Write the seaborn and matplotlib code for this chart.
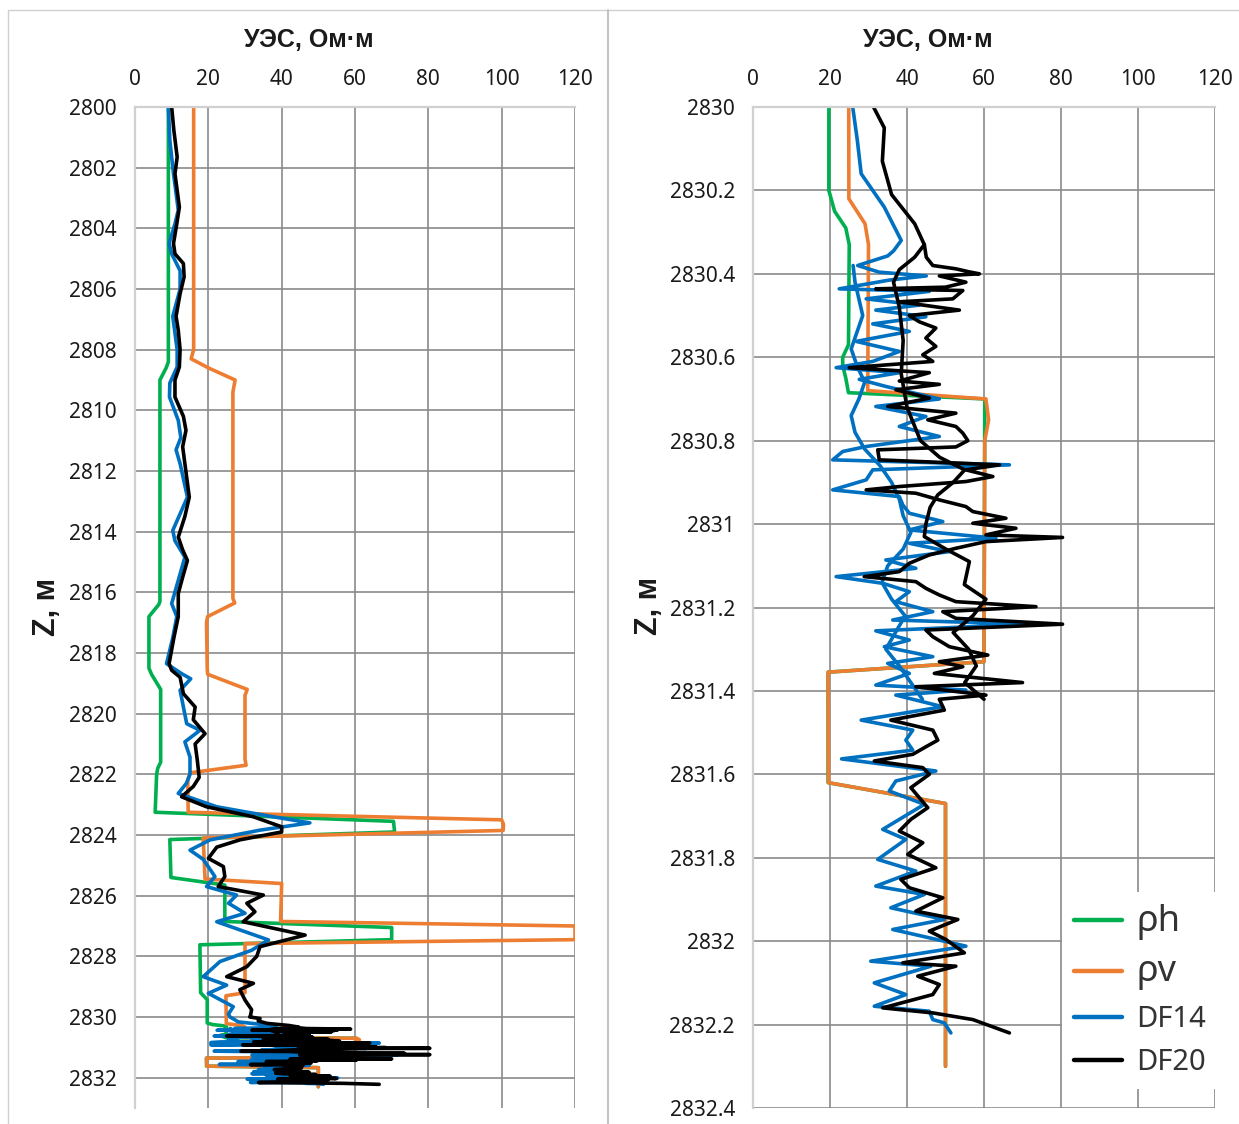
import matplotlib
matplotlib.use("Agg")
import matplotlib.pyplot as plt
from matplotlib.lines import Line2D
from matplotlib.ticker import FuncFormatter, MultipleLocator
import seaborn as sns

# ---------------- data ----------------
# horizontal resistivity (rho_h): depth, value
rho_h_depth = [2800, 2808.4, 2808.6, 2809.0, 2816.3, 2816.4, 2816.8, 2818.5, 2818.7, 2819.2,
               2821.6, 2821.8, 2822.0, 2823.25, 2823.55, 2823.9, 2824.15, 2825.4, 2825.65,
               2826.85, 2827.05, 2827.45, 2827.62, 2829.2, 2829.43, 2830.2, 2830.25, 2830.29,
               2830.33, 2830.57, 2830.6, 2830.62, 2830.65, 2830.685, 2830.7, 2831.33, 2831.355,
               2831.62, 2831.67, 2832.3]
rho_h_val = [9.1, 9.1, 8.5, 6.8, 6.8, 6.5, 3.8, 3.8, 4.5, 7.0,
             7.0, 6.2, 5.9, 5.5, 70.5, 70.8, 9.5, 9.8, 24.5,
             24.5, 70.0, 70.0, 17.7, 17.9, 19.7, 19.7, 21.2, 24.1,
             25.0, 24.8, 23.3, 23.3, 24.1, 24.8, 60.2, 60.0, 19.5,
             19.5, 50.0, 50.0]

# vertical resistivity (rho_v)
rho_v_depth = [2800, 2808.0, 2808.3, 2808.6, 2809.0, 2809.4, 2816.2, 2816.35, 2816.8, 2817.0,
               2818.5, 2818.7, 2819.2, 2819.4, 2821.5, 2821.7, 2821.95, 2822.2, 2823.25, 2823.5,
               2823.65, 2823.85, 2824.1, 2825.45, 2825.6, 2826.85, 2827.0, 2827.45, 2827.58,
               2829.2, 2829.3, 2830.22, 2830.28, 2830.33, 2830.68, 2830.7, 2830.75, 2830.8,
               2831.33, 2831.355, 2831.62, 2831.67, 2832.3]
rho_v_val = [16.0, 16.0, 15.3, 20.0, 27.3, 26.7, 26.7, 27.2, 19.8, 19.5,
             19.7, 19.8, 30.6, 30.0, 30.0, 30.3, 15.0, 14.4, 14.5, 100.0,
             100.5, 100.4, 18.6, 19.1, 40.0, 39.7, 120.0, 120.0, 30.0,
             30.0, 24.8, 24.9, 29.1, 30.0, 29.8, 60.5, 61.2, 60.2,
             60.0, 19.5, 19.6, 50.0, 50.0]

# DF14 log
df14_depth = [2800, 2801.1, 2802.2, 2803.4, 2803.85, 2804.5, 2804.84, 2805.4, 2806.0, 2806.9,
              2808.0, 2808.57, 2809.1, 2809.56, 2810.33, 2810.9, 2811.3, 2811.76, 2812.86, 2813.96,
              2814.3, 2814.84, 2815.6, 2816.37, 2816.8, 2817.5, 2818.35, 2818.68, 2818.85, 2819.23,
              2819.78, 2820.33, 2820.55, 2820.93, 2821.43, 2822.0, 2822.3, 2822.63, 2823.07, 2823.4,
              2823.6, 2823.84, 2824.16, 2824.5, 2824.8, 2825.37, 2825.7, 2825.98, 2826.25, 2826.58,
              2826.86, 2827.46, 2827.8, 2828.17, 2828.67, 2828.95, 2829.22, 2829.66, 2829.9, 2830.0,
              2830.08, 2830.16, 2830.24, 2830.32, 2830.345, 2830.357, 2830.38, 2830.396, 2830.405,
              2830.415, 2830.436, 2830.442, 2830.46, 2830.475, 2830.487, 2830.503, 2830.52, 2830.538,
              2830.562, 2830.586, 2830.61, 2830.625, 2830.637, 2830.653, 2830.67, 2830.70, 2830.718,
              2830.742, 2830.766, 2830.79, 2830.814, 2830.826, 2830.846, 2830.858, 2830.87, 2830.894,
              2830.918, 2830.934, 2830.954, 2830.974, 2830.994, 2831.014, 2831.034, 2831.046,
              2831.066, 2831.086, 2831.106, 2831.126, 2831.142, 2831.162, 2831.186, 2831.21, 2831.23,
              2831.24, 2831.256, 2831.278, 2831.294, 2831.318, 2831.334, 2831.358, 2831.386,
              2831.398, 2831.41, 2831.438, 2831.47, 2831.494, 2831.518, 2831.542, 2831.563,
              2831.592, 2831.616, 2831.64, 2831.672, 2831.732, 2831.756, 2831.804, 2831.832,
              2831.868, 2831.888, 2831.92, 2831.948, 2831.972, 2832.012, 2832.048, 2832.06, 2832.1,
              2832.128, 2832.156, 2832.168, 2832.188, 2832.196, 2832.22]
df14_val = [9.1, 9.5, 10.5, 11.8, 10.9, 9.3, 10.0, 12.3, 12.3, 10.3,
            11.5, 11.5, 9.5, 9.4, 11.8, 12.5, 11.2, 12.3, 14.3, 10.3,
            10.9, 13.6, 11.8, 10.0, 11.4, 10.3, 8.6, 12.7, 15.2, 12.3,
            13.2, 14.1, 17.7, 13.6, 15.0, 15.0, 14.0, 11.8, 22.3, 37.7,
            47.7, 34.1, 20.5, 15.0, 18.6, 21.8, 19.5, 27.7, 25.5, 30.0,
            22.3, 36.4, 31.8, 23.2, 18.6, 25.0, 20.0, 26.8, 25.5, 25.9,
            27.1, 28.1, 34.1, 38.5, 36.5, 35.0, 27.2, 32.8, 45.0,
            35.4, 22.4, 45.8, 29.4, 43.2, 31.9, 44.9, 31.1, 40.6,
            26.8, 38.0, 31.1, 21.6, 38.0, 27.6, 34.5, 48.4, 31.9,
            44.9, 38.0, 48.4, 29.4, 23.3, 20.7, 66.6, 31.1, 29.4,
            20.7, 38.0, 38.9, 40.6, 49.3, 40.6, 63.1, 40.6,
            51.0, 34.5, 42.3, 21.6, 33.7, 40.6, 37.1, 46.7, 36.3,
            71.8, 31.9, 40.6, 34.1, 46.7, 35.0, 40.6, 31.9,
            55.3, 37.1, 49.3, 28.1, 41.5, 39.7, 41.5, 23.0,
            47.5, 37.1, 35.4, 44.5, 33.7, 39.7, 32.4, 42.3,
            31.9, 44.5, 35.8, 49.7, 36.3, 55.3, 30.6, 46.2, 31.5,
            39.7, 31.5, 45.8, 46.7, 49.7, 51.4]

# second DF14 trace through the thin-bedded interval
df14b_depth = [2830.38, 2830.42, 2830.46, 2830.5, 2830.54, 2830.58, 2830.62, 2830.66, 2830.70,
               2830.74, 2830.78, 2830.82, 2830.86, 2830.90, 2830.94, 2830.98, 2831.02, 2831.06,
               2831.10, 2831.14, 2831.18, 2831.22, 2831.26, 2831.30, 2831.34, 2831.38, 2831.42]
df14b_val = [26.0, 26.5, 27.5, 28.5, 27.0, 25.5, 27.0, 29.0, 27.5,
             25.5, 26.5, 29.0, 33.0, 36.0, 38.0, 39.0, 41.0, 39.0,
             35.0, 33.5, 36.0, 39.5, 37.0, 34.5, 38.0, 41.0, 44.0]

# DF20 log
df20_depth = [2800, 2800.77, 2801.65, 2802.2, 2803.3, 2803.85, 2804.5, 2804.84, 2805.16, 2805.6,
              2806.15, 2806.9, 2807.36, 2808.0, 2808.57, 2809.0, 2809.56, 2810.2, 2810.66, 2811.2,
              2811.76, 2812.86, 2813.5, 2814.18, 2814.6, 2814.95, 2815.5, 2816.04, 2816.8, 2817.5,
              2818.35, 2818.57, 2818.8, 2819.34, 2819.78, 2820.2, 2820.66, 2821.0, 2821.54, 2822.1,
              2822.4, 2822.74, 2823.07, 2823.4, 2823.73, 2823.9, 2824.16, 2824.4, 2824.77, 2825.04,
              2825.37, 2825.7, 2825.98, 2826.25, 2826.53, 2826.86, 2827.3, 2827.68, 2828.0, 2828.34,
              2828.67, 2828.89, 2829.1, 2829.44, 2829.76, 2829.95, 2830.0, 2830.05, 2830.13, 2830.21,
              2830.28, 2830.33, 2830.36, 2830.38, 2830.388, 2830.395, 2830.40, 2830.405, 2830.42,
              2830.432, 2830.436, 2830.44, 2830.46, 2830.467, 2830.487, 2830.50, 2830.515, 2830.53,
              2830.554, 2830.574, 2830.594, 2830.61, 2830.625, 2830.637, 2830.657, 2830.665,
              2830.678, 2830.698, 2830.718, 2830.734, 2830.75, 2830.766, 2830.782, 2830.80,
              2830.815, 2830.822, 2830.846, 2830.858, 2830.87, 2830.886, 2830.898, 2830.91,
              2830.918, 2830.926, 2830.942, 2830.958, 2830.97, 2830.986, 2830.998, 2831.01,
              2831.026, 2831.032, 2831.042, 2831.058, 2831.074, 2831.094, 2831.114, 2831.126,
              2831.138, 2831.154, 2831.17, 2831.186, 2831.198, 2831.21, 2831.226, 2831.24,
              2831.254, 2831.27, 2831.294, 2831.314, 2831.33, 2831.342, 2831.358, 2831.38,
              2831.39, 2831.41, 2831.42, 2831.446, 2831.47, 2831.494, 2831.518, 2831.534,
              2831.552, 2831.568, 2831.584, 2831.60, 2831.632, 2831.68, 2831.708, 2831.736,
              2831.764, 2831.792, 2831.824, 2831.852, 2831.872, 2831.896, 2831.928, 2831.948,
              2831.976, 2831.996, 2832.028, 2832.052, 2832.06, 2832.084, 2832.104, 2832.128,
              2832.16, 2832.172, 2832.188, 2832.22]
df20_val = [10.0, 10.6, 11.5, 10.9, 12.1, 11.4, 10.5, 10.9, 13.2, 13.4,
            12.3, 11.2, 11.8, 12.3, 12.1, 10.9, 10.9, 13.2, 13.9, 13.0,
            13.6, 14.8, 13.6, 11.8, 13.0, 14.3, 13.0, 11.8, 11.8, 10.6,
            9.3, 10.0, 12.3, 13.2, 16.4, 15.9, 19.1, 16.4, 17.0, 17.5,
            15.9, 12.7, 19.5, 32.3, 40.0, 40.0, 28.6, 22.3, 20.0, 24.1,
            24.5, 22.7, 35.0, 30.5, 32.7, 29.5, 46.4, 34.1, 33.2, 30.5,
            25.0, 32.3, 28.6, 30.0, 31.8, 31.5, 31.3, 34.1, 33.6, 36.0,
            42.0, 44.5, 45.0, 46.7, 52.7, 56.0, 58.8, 48.4, 55.3,
            50.0, 31.9, 54.5, 51.9, 38.0, 53.6, 40.6, 43.2, 47.5,
            44.9, 47.5, 44.1, 46.7, 25.0, 45.8, 38.0, 48.4,
            37.1, 45.8, 35.0, 52.7, 45.4, 52.7, 54.5, 55.8,
            52.7, 32.4, 32.8, 64.0, 55.3, 62.3, 55.3, 38.0,
            29.4, 42.3, 48.4, 55.3, 57.1, 65.7, 57.1, 68.3,
            60.5, 80.4, 60.5, 52.7, 45.8, 40.6, 38.0, 28.9,
            42.3, 44.9, 48.4, 52.7, 73.5, 49.3, 52.7, 80.4,
            44.9, 46.7, 51.0, 61.0, 48.4, 54.5, 47.1, 70.0,
            42.3, 60.5, 48.4, 49.7, 35.8, 46.7, 48.0, 44.9,
            41.5, 31.5, 44.1, 45.8, 41.0, 45.4, 41.0, 38.0,
            44.1, 40.2, 47.5, 38.4, 40.6, 49.3, 42.3, 53.2,
            45.8, 50.1, 54.9, 38.9, 52.7, 42.8, 48.4, 46.7,
            33.7, 46.7, 57.1, 66.6]

# second DF20 trace through the thin-bedded interval
df20b_depth = [2830.33, 2830.36, 2830.39, 2830.42, 2830.48, 2830.56, 2830.64, 2830.72, 2830.8,
               2830.84, 2830.87, 2830.9, 2830.93, 2830.96, 2831.0, 2831.03, 2831.06, 2831.09,
               2831.145, 2831.18, 2831.22, 2831.26, 2831.3, 2831.34, 2831.38, 2831.42]
df20b_val = [44.5, 42.0, 38.0, 36.5, 38.0, 39.0, 38.5, 40.0, 43.5,
             48.5, 55.0, 52.0, 48.0, 46.0, 44.9, 44.5, 50.1, 56.2,
             54.9, 60.5, 57.1, 52.0, 56.0, 58.0, 55.0, 60.0]

x_ticks = [0, 20, 40, 60, 80, 100, 120]
title_text = "УЭС, Ом·м"
ylabel_text = "Z, м"
legend_labels = ["ρh", "ρv", "DF14", "DF20"]

# ---------------- style ----------------
sns.set_theme(style="white")
plt.rcParams["font.family"] = ["Noto Sans", "DejaVu Sans"]
BOLD_FAMILY = ["Liberation Sans", "DejaVu Sans"]

C_H = "#00B050"
C_V = "#ED7D31"
C_14 = "#0070C0"
C_20 = "#000000"
LW = 2.6
GRID = "#8a8a8a"
EDGE = "#d0d0d0"
TXT = "#1a1a1a"

W, H = 1239, 1124
fig = plt.figure(figsize=(W / 100, H / 100), dpi=100)


def fx(px):
    return px / W


def fy(py):
    return 1 - py / H


ax_l = fig.add_axes([fx(135), fy(1108), fx(575 - 135), (1108 - 107) / H])
ax_r = fig.add_axes([fx(753), fy(1108), fx(1215 - 753), (1108 - 107) / H])


def draw_logs(ax):
    kw = dict(orient="y", sort=False, estimator=None, ax=ax, legend=False)
    sns.lineplot(x=rho_h_val, y=rho_h_depth, color=C_H, lw=LW, **kw)
    sns.lineplot(x=rho_v_val, y=rho_v_depth, color=C_V, lw=LW, **kw)
    sns.lineplot(x=df14b_val, y=df14b_depth, color=C_14, lw=LW, **kw)
    sns.lineplot(x=df14_val, y=df14_depth, color=C_14, lw=LW, **kw)
    sns.lineplot(x=df20b_val, y=df20b_depth, color=C_20, lw=LW, **kw)
    sns.lineplot(x=df20_val, y=df20_depth, color=C_20, lw=LW, **kw)
    for ln in ax.get_lines():
        ln.set_solid_joinstyle("round")
        ln.set_solid_capstyle("round")


def style_axes(ax, ylim, ystep, fmt):
    ax.set_xlim(0, 120)
    ax.set_ylim(*ylim)
    ax.set_xticks(x_ticks)
    ax.yaxis.set_major_locator(MultipleLocator(ystep))
    ax.yaxis.set_major_formatter(FuncFormatter(fmt))
    ax.xaxis.tick_top()
    ax.set_xlabel("")
    ax.set_ylabel("")
    ax.grid(True, color=GRID, lw=1.2)
    ax.set_axisbelow(True)
    for s in ("right", "bottom"):
        ax.spines[s].set_visible(False)
    for s in ("left", "top"):
        ax.spines[s].set_color(EDGE)
        ax.spines[s].set_linewidth(1.6)
    ax.tick_params(axis="x", length=0, pad=12, labelsize=15, colors=TXT)
    ax.tick_params(axis="y", length=0, pad=13, labelsize=15, colors=TXT)


draw_logs(ax_l)
draw_logs(ax_r)
style_axes(ax_l, (2833, 2800), 2, lambda v, p: f"{v:.0f}")
style_axes(ax_r, (2832.4, 2830), 0.2, lambda v, p: f"{round(v, 1):g}")

# titles and depth labels
for cx in (309, 928):
    fig.text(fx(cx), fy(40), title_text, ha="center", va="center",
             fontsize=18, fontweight="bold", family=BOLD_FAMILY, color=TXT)
for cx, cy in ((47, 607), (649, 606)):
    fig.text(fx(cx), fy(cy), ylabel_text, ha="center", va="center", rotation=90,
             fontsize=22, fontweight="bold", family=BOLD_FAMILY, color=TXT)

# chart-area borders
fig.add_artist(Line2D([fx(8), fx(1239)], [fy(10), fy(10)], color=EDGE, lw=1))
fig.add_artist(Line2D([fx(8), fx(8)], [fy(10), 0], color=EDGE, lw=1))
fig.add_artist(Line2D([fx(608), fx(608)], [fy(10), 0], color="#c4c4c4", lw=1.5))

# legend
handles = [Line2D([], [], color=c, lw=3.2) for c in (C_H, C_V, C_14, C_20)]
leg = ax_r.legend(handles, legend_labels, loc="upper left",
                  bbox_to_anchor=(fx(1062), fy(892)), bbox_transform=fig.transFigure,
                  borderaxespad=0, borderpad=0.4, fontsize=21, handlelength=1.65,
                  handletextpad=0.5, labelspacing=0.5, frameon=True, fancybox=False)
leg.get_frame().set_facecolor("white")
leg.get_frame().set_edgecolor("none")
leg.get_frame().set_alpha(1)
for i, t in enumerate(leg.get_texts()):
    t.set_color("#333333")
    if i < 2:
        t.set_fontsize(26)

fig.savefig("out.png", dpi=100)
